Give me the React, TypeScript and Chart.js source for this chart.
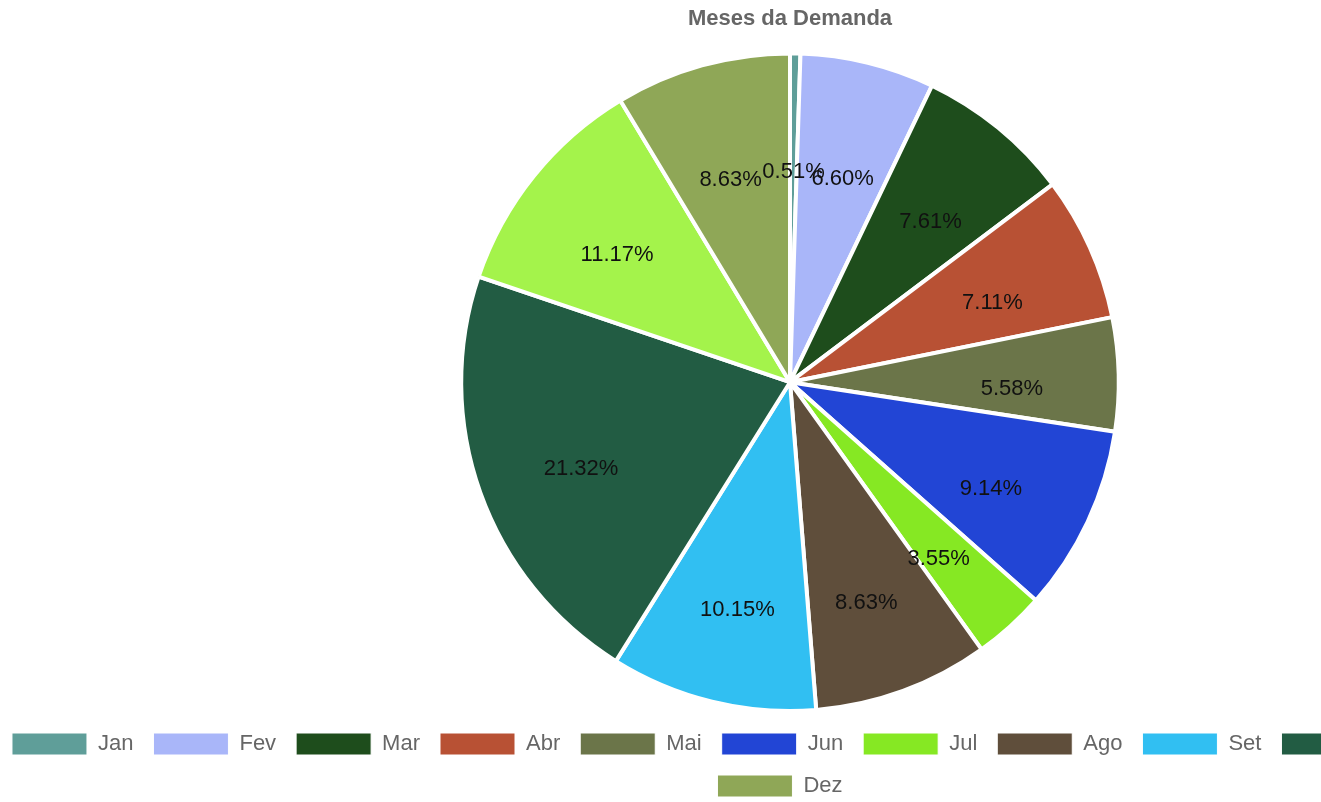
import React, { useEffect, useRef } from 'react';
import { Chart, registerables } from 'chart.js';

Chart.register(...registerables);

const CHART_TITLE = 'Meses da Demanda';
const MONTHS = ['Jan', 'Fev', 'Mar', 'Abr', 'Mai', 'Jun', 'Jul', 'Ago', 'Set', 'Out', 'Nov', 'Dez'];
const DEMAND_COUNTS = [1, 13, 15, 14, 11, 18, 7, 17, 20, 42, 22, 17];
const SLICE_COLORS = [
  '#5f9e99', '#a9b6f9', '#1e4d1c', '#b85134', '#6b7549', '#2245d5',
  '#86e823', '#5f4e3b', '#31bff2', '#225c43', '#a4f34b', '#8fa757',
];

const FONT = "'Liberation Sans', Arial, Helvetica, sans-serif";

const percentLabels = {
  id: 'percentLabels',
  afterDatasetsDraw(chart: any) {
    const ctx = chart.ctx;
    const meta = chart.getDatasetMeta(0);
    const data = chart.data.datasets[0].data as number[];
    const total = data.reduce((a, b) => a + b, 0);
    ctx.save();
    ctx.font = `22px ${FONT}`;
    ctx.fillStyle = '#111';
    ctx.textAlign = 'center';
    ctx.textBaseline = 'middle';
    meta.data.forEach((arc: any, i: number) => {
      const { x, y, startAngle, endAngle, outerRadius } = arc.getProps(
        ['x', 'y', 'startAngle', 'endAngle', 'outerRadius'],
        true
      );
      const mid = (startAngle + endAngle) / 2;
      const r = outerRadius * 0.675;
      const px = x + Math.cos(mid) * r;
      const py = y + Math.sin(mid) * r;
      const pct = ((data[i] / total) * 100).toFixed(2) + '%';
      ctx.fillText(pct, px, py + 12);
    });
    ctx.restore();
  },
};

// legacy-style legend centering (rows offset left by half the label padding)
const legendShift = {
  id: 'legendShift',
  afterLayout(chart: any) {
    const l = chart.legend;
    if (l) {
      l.left -= 10;
      l.right -= 10;
    }
  },
};

export default function App() {
  const canvasRef = useRef<HTMLCanvasElement | null>(null);

  useEffect(() => {
    if (!canvasRef.current) return;
    const baseGen = (Chart as any).overrides.doughnut.plugins.legend.labels.generateLabels;
    const chart = new Chart(canvasRef.current, {
      type: 'pie',
      data: {
        labels: MONTHS,
        datasets: [
          {
            data: DEMAND_COUNTS,
            backgroundColor: SLICE_COLORS,
            borderColor: '#ffffff',
            borderWidth: 4,
          },
        ],
      },
      options: {
        responsive: false,
        animation: false,
        events: [],
        layout: { padding: 0 },
        plugins: {
          title: {
            display: true,
            text: CHART_TITLE,
            color: '#666',
            font: { family: FONT, size: 22, weight: 'bold' },
            padding: { top: 17, bottom: 19 },
          },
          legend: {
            display: true,
            position: 'bottom',
            labels: {
              color: '#666',
              font: { family: FONT, size: 22 },
              boxWidth: 75,
              boxHeight: 22,
              padding: 20,
              generateLabels(c: any) {
                return baseGen(c).map((it: any) => ({ ...it, lineWidth: 1 }));
              },
            },
          },
          tooltip: { enabled: false },
        },
      } as any,
      plugins: [percentLabels, legendShift],
    });
    return () => chart.destroy();
  }, []);

  return (
    <div
      style={{
        position: 'fixed',
        left: 0,
        top: 0,
        width: '100vw',
        height: '100vh',
        overflow: 'hidden',
        background: '#ffffff',
      }}
    >
      <div style={{ position: 'absolute', left: -10, top: -11, width: 1600, height: 818 }}>
        <canvas ref={canvasRef} width={1600} height={818} style={{ display: 'block' }} />
      </div>
    </div>
  );
}
